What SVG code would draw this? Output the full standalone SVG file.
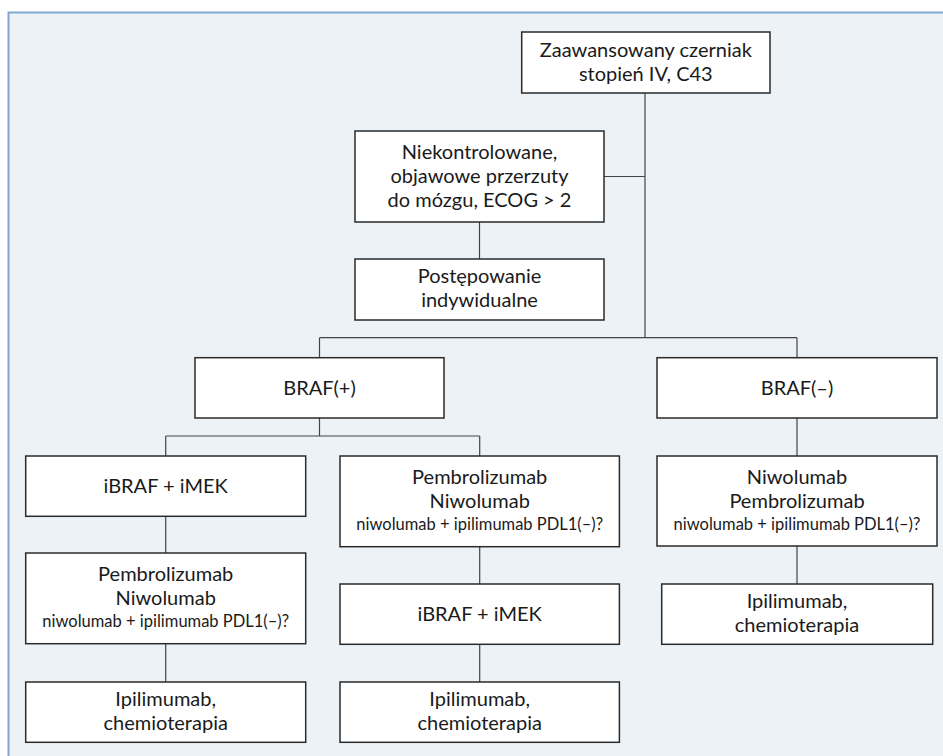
<svg xmlns="http://www.w3.org/2000/svg" width="943" height="756" viewBox="0 0 943 756">
<style>
.node rect{fill:#ffffff;stroke:#2a2a2a;stroke-width:1.5}
.node text{font-family:Lato,"Open Sans","DejaVu Sans",sans-serif;font-size:20px;fill:#1a1a1a;text-anchor:middle}
.node text.s{font-size:16.5px}
#connectors path{fill:none;stroke:#444444;stroke-width:1.2}
</style>
<rect x="0" y="0" width="943" height="756" fill="#ffffff"/>
<rect x="8.5" y="12.5" width="960" height="770" fill="#edf2f7" stroke="#7fa6d3" stroke-width="2"/>
<g id="connectors">
<path d="M645 93V337.7"/>
<path d="M604 176.5H645"/>
<path d="M479.5 222V259"/>
<path d="M319.5 337.7H797M319.5 337.7V357.7M797 337.7V357.7"/>
<path d="M319.5 418V436M165.7 436H479.7M165.7 436V456M479.7 436V456"/>
<path d="M165.7 516.3V553M165.7 643.7V682"/>
<path d="M479.7 546.7V584M479.7 644.3V682"/>
<path d="M797 418V456M797 546V584"/>
</g>
<g id="n-top" class="node"><rect x="521.7" y="32" width="248.3" height="61"/><text x="645.8" y="56.5">Zaawansowany czerniak</text><text x="645.8" y="80.5">stopień IV, C43</text></g>
<g id="n-brain" class="node"><rect x="355" y="131" width="249" height="91"/><text x="479.5" y="159">Niekontrolowane,</text><text x="479.5" y="183">objawowe przerzuty</text><text x="479.5" y="207">do mózgu, ECOG &gt; 2</text></g>
<g id="n-indyw" class="node"><rect x="355" y="259" width="249" height="61"/><text x="479.5" y="283.3">Postępowanie</text><text x="479.5" y="307.3">indywidualne</text></g>
<g id="n-brafp" class="node"><rect x="195" y="357.7" width="249" height="60.3"/><text x="319.5" y="395">BRAF(+)</text></g>
<g id="n-brafm" class="node"><rect x="657" y="357.7" width="280" height="60.3"/><text x="797" y="395">BRAF(–)</text></g>
<g id="n-l1" class="node"><rect x="25.7" y="456" width="280" height="60.3"/><text x="165.7" y="493.3">iBRAF + iMEK</text></g>
<g id="n-l2" class="node"><rect x="25.7" y="553" width="280" height="90.7"/><text x="165.7" y="580.5">Pembrolizumab</text><text x="165.7" y="604.5">Niwolumab</text><text class="s" x="165.7" y="627">niwolumab + ipilimumab PDL1(–)?</text></g>
<g id="n-l3" class="node"><rect x="25.7" y="682" width="280" height="60.3"/><text x="165.7" y="705.5">Ipilimumab,</text><text x="165.7" y="729.5">chemioterapia</text></g>
<g id="n-m1" class="node"><rect x="340" y="456" width="279.4" height="90.7"/><text x="479.7" y="483.5">Pembrolizumab</text><text x="479.7" y="507.5">Niwolumab</text><text class="s" x="479.7" y="530">niwolumab + ipilimumab PDL1(–)?</text></g>
<g id="n-m2" class="node"><rect x="340" y="584" width="279.4" height="60.3"/><text x="479.7" y="621.3">iBRAF + iMEK</text></g>
<g id="n-m3" class="node"><rect x="340" y="682" width="279.4" height="60.3"/><text x="479.7" y="705.5">Ipilimumab,</text><text x="479.7" y="729.5">chemioterapia</text></g>
<g id="n-r1" class="node"><rect x="657" y="456" width="280" height="90"/><text x="797" y="483.5">Niwolumab</text><text x="797" y="507.5">Pembrolizumab</text><text class="s" x="797" y="530">niwolumab + ipilimumab PDL1(–)?</text></g>
<g id="n-r2" class="node"><rect x="661.7" y="584" width="271" height="60.3"/><text x="797" y="607.5">Ipilimumab,</text><text x="797" y="631.5">chemioterapia</text></g>
</svg>
